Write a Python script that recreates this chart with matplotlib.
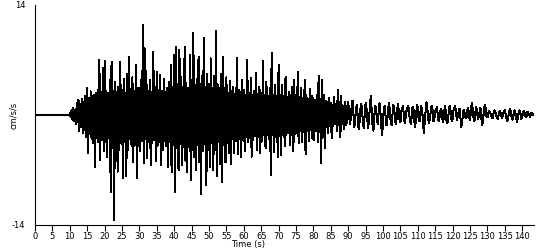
import numpy as np
import matplotlib
matplotlib.use("Agg")
import matplotlib.pyplot as plt

# ==========================
# DATA
# ==========================

# quiet part before the first arrival
pre_time = [0.0, 10.0]
pre_accel = [0.0, 0.0]

# strong motion 10-90 s: one upper and one lower swing per half second (cm/s/s)
strong_start = 10.0
strong_step = 0.5

upper = [
    0.3, 0.6, 0.9, 0.7, 1.5, 1.9, 1.4, 2.1, 1.6, 2.4,      # 10-14.5
    3.4, 2.2, 3.0, 2.4, 2.6, 2.8, 3.2, 7.0, 2.9, 6.0,      # 15
    6.9, 3.0, 2.8, 4.5, 6.8, 3.1, 4.2, 2.9, 3.6, 6.8,      # 20
    3.2, 4.6, 2.8, 5.2, 7.4, 3.3, 4.8, 3.0, 6.4, 3.5,      # 25
    3.4, 4.5, 11.5, 8.5, 5.6, 3.0, 4.4, 2.9, 8.0, 3.6,     # 30
    5.5, 3.2, 5.1, 3.0, 4.6, 2.9, 3.4, 4.2, 6.4, 3.6,      # 35
    7.6, 8.7, 4.0, 8.3, 4.8, 3.6, 8.7, 4.1, 3.5, 7.7,      # 40
    4.4, 10.4, 3.8, 4.6, 7.4, 3.9, 5.0, 9.8, 3.6, 5.2,     # 45
    4.0, 7.2, 3.5, 5.0, 10.7, 3.9, 3.4, 5.2, 7.4, 3.5,     # 50
    4.8, 2.8, 4.3, 3.0, 3.6, 2.7, 7.2, 3.2, 2.9, 4.5,      # 55
    3.2, 2.6, 7.0, 2.8, 4.7, 2.5, 3.1, 5.3, 2.7, 3.6,      # 60
    2.8, 6.9, 2.5, 4.2, 2.4, 3.4, 7.9, 2.6, 3.8, 2.4,      # 65
    6.4, 2.5, 3.8, 2.4, 4.9, 2.3, 2.9, 2.5, 3.6, 4.5,      # 70
    2.6, 5.5, 2.3, 3.4, 2.2, 4.5, 2.5, 2.0, 3.3, 2.4,      # 75
    2.2, 1.9, 2.6, 5.0, 2.0, 4.4, 2.5, 1.8, 1.6, 2.2,      # 80
    1.5, 1.3, 2.3, 1.4, 3.2, 1.6, 2.4, 1.2, 1.7, 1.1,      # 85-89.5
]

lower = [
    -0.3, -0.6, -0.8, -1.2, -0.9, -2.1, -1.5, -2.3, -1.9, -2.8,
    -4.9, -2.4, -3.0, -3.6, -6.6, -2.9, -3.5, -5.7, -3.2, -4.6,
    -3.4, -5.4, -2.9, -9.8, -4.2, -13.4, -3.3, -7.2, -4.4, -3.6,
    -8.0, -3.4, -7.8, -4.5, -3.1, -4.0, -6.0, -3.3, -8.0, -3.9,
    -4.6, -3.3, -6.1, -3.0, -5.5, -3.5, -6.4, -3.6, -3.2, -5.8,
    -3.9, -3.4, -6.4, -4.5, -3.3, -4.0, -6.6, -3.5, -7.3, -3.8,
    -9.8, -4.2, -7.0, -3.7, -6.4, -4.1, -5.8, -7.2, -3.6, -8.3,
    -4.5, -5.4, -7.0, -3.8, -6.0, -10.1, -4.6, -3.7, -8.9, -4.4,
    -6.6, -3.6, -7.0, -4.4, -7.8, -3.5, -6.2, -8.5, -3.8, -6.0,
    -3.6, -4.8, -6.2, -3.1, -4.8, -3.3, -5.0, -3.0, -5.3, -3.2,
    -4.6, -2.8, -3.4, -2.9, -5.3, -3.2, -2.7, -4.4, -2.8, -4.9,
    -3.3, -2.6, -4.2, -2.5, -3.0, -7.6, -2.6, -4.7, -2.8, -5.3,
    -2.7, -5.1, -2.5, -4.0, -2.6, -2.3, -3.8, -2.5, -4.6, -2.4,
    -2.3, -3.6, -2.1, -3.4, -2.2, -5.0, -2.0, -3.3, -1.9, -3.0,
    -3.2, -2.0, -3.5, -2.2, -6.1, -2.1, -4.2, -1.5, -2.3, -1.4,
    -2.9, -1.4, -1.2, -2.0, -1.3, -2.8, -1.1, -1.8, -1.3, -1.0,
]

# coda 90-143.5 s, one sample every quarter second (cm/s/s)
coda_start = 90.0
coda_step = 0.25

coda = [
    1.6, 0.4, -1.2, -0.5, 1.1, 1.8, 0.2, -1.5, -0.6, 0.9,
    1.3, -0.3, -1.8, -0.9, 0.7, 1.4, 0.5, -1.1, -1.6, 0.2,      # 90
    1.5, 0.8, -0.6, -1.7, -0.4, 1.0, 2.4, 0.6, -1.3, -2.0,
    -0.2, 1.2, 0.9, -0.5, -1.1, 0.3, 1.5, 0.4, -1.4, -2.5,      # 95
    -0.8, 0.9, 1.2, -0.2, -1.3, -0.6, 0.8, 1.5, 0.3, -1.0,
    -1.3, 0.2, 1.3, 0.6, -0.7, -1.2, 0.1, 1.4, 0.7, -0.6,       # 100
    -0.9, 0.4, 0.8, 1.1, -0.1, -1.0, -0.4, 0.5, 0.9, 1.2,
    0.2, -0.6, -1.1, -0.3, 1.0, 0.7, -0.7, -1.5, -0.4, 1.3,     # 105
    0.9, -0.5, -0.8, 0.3, 1.1, 0.6, -0.9, -2.3, -0.7, 0.4,
    1.6, 0.8, -0.5, -1.0, -0.2, 0.5, 1.2, 0.6, -0.8, -0.5,      # 110
    0.4, 0.7, 1.0, -0.1, -0.8, -0.3, 0.5, 0.8, -0.4, -0.9,
    -0.2, 1.1, 0.6, -0.7, -1.0, -0.3, 0.9, 1.2, 0.1, -0.8,      # 115
    -0.5, 0.6, 0.9, 1.1, 0.2, -0.6, -0.2, 0.4, 0.8, -0.3,
    -1.5, -0.9, 0.3, 0.7, 0.2, -0.4, -0.3, 0.6, 0.9, -0.2,      # 120
    -0.7, 0.4, 1.5, 0.8, -0.3, -0.8, 0.1, 1.0, 0.6, -0.5,
    -0.2, 0.3, 0.9, -0.4, -1.3, -0.6, 0.5, 1.3, 0.8, -0.2,      # 125
    -0.3, 0.2, 0.5, 0.3, 0.1, -0.2, -0.4, 0.2, 0.6, 0.4,
    0.0, -0.3, -0.5, 0.1, 0.5, 0.3, -0.1, -0.4, 0.2, 0.5,       # 130
    0.6, 0.1, -0.5, -0.8, -0.2, 0.4, 0.8, 0.3, -0.4, -0.6,
    0.0, 0.6, 0.4, -0.3, -0.9, -0.4, 0.3, 0.6, 0.2, -0.5,       # 135
    -0.3, 0.3, 0.5, 0.1, -0.3, -0.2, 0.4, 0.3, 0.0, -0.2,
    0.2, 0.3, 0.1, 0.0, 0.1,                                    # 140-143.5
]

x_ticks = list(range(0, 145, 5))
y_ticks = [-14, 14]

# ==========================
# BUILD THE TRACE
# ==========================

n = len(upper)
t_up = strong_start + strong_step * np.arange(n)
t_lo = t_up + strong_step / 2

strong_time = np.empty(2 * n)
strong_accel = np.empty(2 * n)
strong_time[0::2] = t_up
strong_time[1::2] = t_lo
strong_accel[0::2] = upper
strong_accel[1::2] = lower

coda_time = coda_start + coda_step * np.arange(len(coda))

time = np.concatenate([strong_time, coda_time])
accel = np.concatenate([strong_accel, coda])

# ==========================
# PLOT
# ==========================

plt.rcParams['font.family'] = ['DejaVu Sans']

fig = plt.figure(figsize=(5.5, 2.5), dpi=100)
ax = fig.add_axes([0.0636, 0.10, 0.9080, 0.88])

ax.plot(pre_time, pre_accel, color='black', linewidth=1.5, solid_capstyle='butt')
ax.plot(time, accel, color='black', linewidth=0.75, antialiased=False)

ax.set_xlim(0, 143.5)
ax.set_ylim(-14, 14)

ax.spines['top'].set_visible(False)
ax.spines['right'].set_visible(False)
ax.spines['left'].set_linewidth(0.8)
ax.spines['bottom'].set_linewidth(0.8)

ax.set_xticks(x_ticks)
ax.set_xticklabels([str(v) for v in x_ticks])
ax.set_yticks(y_ticks)
ax.set_yticklabels([str(v) for v in y_ticks])

ax.tick_params(axis='x', direction='out', length=4, width=0.8, pad=1, labelsize=6)
ax.tick_params(axis='y', length=0, pad=7, labelsize=6)

ax.set_xlabel('Time (s)', fontsize=6)
ax.xaxis.set_label_coords(0.4265, -0.07)
ax.set_ylabel('cm/s/s', fontsize=6)
ax.yaxis.set_label_coords(-0.035, 0.5)

plt.savefig('out.png', dpi=100)
